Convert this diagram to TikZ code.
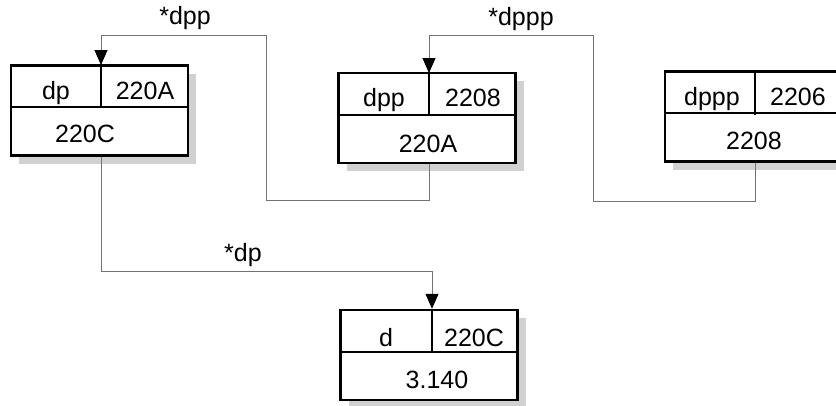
\documentclass[tikz,border=0pt]{standalone}
\usepackage{fontspec}
\setmainfont{Liberation Sans}
\usetikzlibrary{arrows.meta,shadows,calc}
\tikzset{
  mem/.style={draw, line width=2.5pt, fill=white, minimum width=177pt, minimum height=90pt, inner sep=0pt,
    drop shadow={shadow xshift=8pt, shadow yshift=-8pt, fill=black!18, opacity=1}},
  divline/.style={line width=2pt},
  conn/.style={draw=black!55, line width=1pt},
  arr/.style={conn, -{Triangle[width=13pt,length=15pt,color=black]}},
  txt/.style={font=\fontsize{25}{30}\selectfont, anchor=base, inner sep=0pt},
}
\begin{document}
\begin{tikzpicture}[x=1pt,y=-1pt]
\clip (0,0) rectangle (836,405);
\useasboundingbox (0,0) rectangle (836,405);
% boxes
\node[mem] (b1) at (99.5,110.5) {};
\node[mem] (b2) at (427,118) {};
\node[mem] (b3) at (753.5,116.5) {};
\node[mem] (b4) at (429,355) {};
% divider points
\coordinate (b1d) at (101,65);
\coordinate (b2d) at (429,73);
\coordinate (b3d) at (755,72);
\coordinate (b4d) at (432,310);
% dividers
\foreach \b in {b1,b2,b3,b4}{
  \draw[divline] ([yshift=-43pt]\b.north west) -- ([yshift=-43pt]\b.north east);
  \draw[divline] (\b d) -- ([yshift=-43pt]\b d);
}
% texts
\node[txt] (t1a) at (56,99) {dp};
\node[txt] (t1b) at (145,99) {220A};
\node[txt] (t1c) at (85,142) {220C};
\node[txt] (t2a) at (384,106) {dpp};
\node[txt] (t2b) at (473,106) {2208};
\node[txt] (t2c) at (428,152) {220A};
\node[txt] (t3a) at (712,105) {dppp};
\node[txt] (t3b) at (798,105) {2206};
\node[txt] (t3c) at (754,149) {2208};
\node[txt] (t4a) at (386,346) {d};
\node[txt] (t4b) at (474,346) {220C};
\node[txt] (t4c) at (437,388) {3.140};
% labels
\node[txt] (l1) at (185,24) {*dpp};
\node[txt] (l2) at (521,25) {*dppp};
\node[txt] (l3) at (243,261) {*dp};
% connectors
\coordinate (a1) at (266,200);
\coordinate (a2) at (101,35);
\coordinate (c1) at (593,201);
\coordinate (c2) at (429,35);
\coordinate (e1) at (432,271);
\draw[arr] (b2.south -| b2d) |- (a1) |- (a2) -- (b1d);
\draw[arr] (b3.south -| b3d) |- (c1) |- (c2) -- (b2d);
\draw[arr] (b1.south -| b1d) |- (e1) -- (b4d |- b4.north);
\end{tikzpicture}
\end{document}
